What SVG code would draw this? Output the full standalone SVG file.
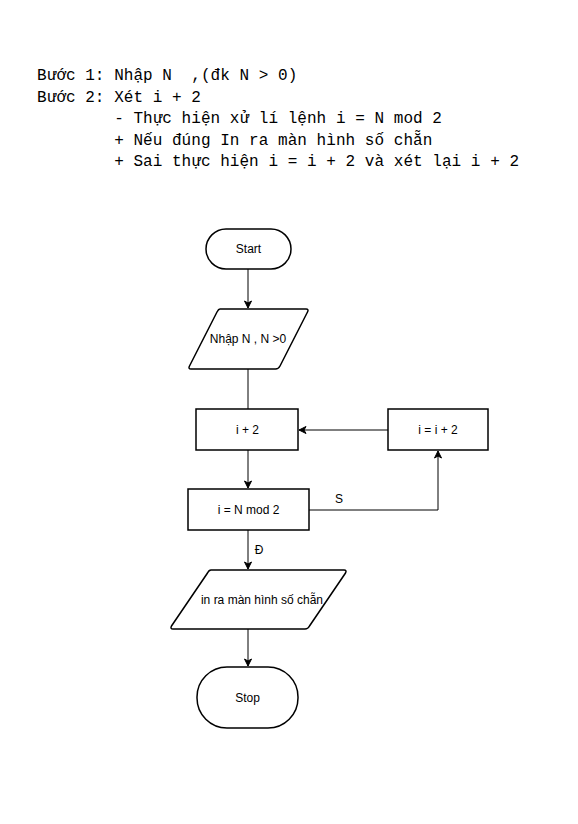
<svg xmlns="http://www.w3.org/2000/svg" width="578" height="824" viewBox="0 0 578 824">
<style>
.mono{font-family:"Liberation Mono","DejaVu Sans Mono",monospace;font-size:16px;letter-spacing:0.04px;fill:#000;white-space:pre}
.shape{fill:#fff;stroke:#000;stroke-width:1.5}
.lbl{font-family:"Liberation Sans",Arial,sans-serif;font-size:12px;fill:#000;text-anchor:middle;dominant-baseline:central}
.edge{fill:none;stroke:#000;stroke-width:1}
</style>
<defs>
<marker id="arr" markerWidth="10" markerHeight="10" refX="8" refY="5" orient="auto" markerUnits="userSpaceOnUse">
<path d="M1,1.5 L8,5 L1,8.5 L3,5 Z" fill="#000" stroke="#000" stroke-width="1"/>
</marker>
</defs>
<rect width="578" height="824" fill="#fff"/>
<g id="description">
<text class="mono" x="37" y="80" xml:space="preserve">Bước 1: Nhập N  ,(đk N &gt; 0)</text>
<text class="mono" x="37" y="101.5" xml:space="preserve">Bước 2: Xét i + 2</text>
<text class="mono" x="37" y="123" xml:space="preserve">        - Thực hiện xử lí lệnh i = N mod 2</text>
<text class="mono" x="37" y="144.5" xml:space="preserve">        + Nếu đúng In ra màn hình số chẵn</text>
<text class="mono" x="37" y="166" xml:space="preserve">        + Sai thực hiện i = i + 2 và xét lại i + 2</text>
</g>
<g id="connectors">
<line class="edge" x1="248" y1="269" x2="248" y2="308" marker-end="url(#arr)"/>
<line class="edge" x1="248" y1="369" x2="248" y2="409"/>
<line class="edge" x1="388" y1="430" x2="299" y2="430" marker-end="url(#arr)"/>
<line class="edge" x1="248" y1="450" x2="248" y2="488" marker-end="url(#arr)"/>
<polyline class="edge" points="309,510 438,510 438,451" marker-end="url(#arr)"/>
<text class="lbl" x="339" y="499">S</text>
<line class="edge" x1="248" y1="530" x2="248" y2="569" marker-end="url(#arr)"/>
<text class="lbl" x="259" y="550">Đ</text>
<line class="edge" x1="248" y1="629" x2="248" y2="666" marker-end="url(#arr)"/>
</g>
<g id="start">
<rect class="shape" x="206" y="229" width="85" height="40" rx="20" ry="20"/>
<text class="lbl" x="248.5" y="249">Start</text>
</g>
<g id="input">
<path class="shape" d="M220,309 L306,309 Q309,309 307.5,312 L280,366 Q278.5,369 275.5,369 L191,369 Q188,369 189.5,366 L217,312 Q218.5,309 220,309 Z"/>
<text class="lbl" x="248" y="339">Nhập N , N &gt;0</text>
</g>
<g id="loop">
<rect class="shape" x="196" y="409" width="102" height="41"/>
<text class="lbl" x="247.5" y="429.5">i + 2</text>
</g>
<g id="increment">
<rect class="shape" x="388" y="409" width="100" height="41"/>
<text class="lbl" x="438" y="429.5">i = i + 2</text>
</g>
<g id="check">
<rect class="shape" x="188" y="489" width="121" height="41"/>
<text class="lbl" x="248.5" y="509.5">i = N mod 2</text>
</g>
<g id="output">
<path class="shape" d="M211,570 L344,570 Q347,570 345.5,573 L309.5,626 Q308,629 305,629 L173,629 Q170,629 171.5,626 L207.5,573 Q209,570 211,570 Z"/>
<text class="lbl" x="262" y="599.5">in ra màn hình số chẵn</text>
</g>
<g id="stop">
<rect class="shape" x="197" y="667" width="101" height="61" rx="30" ry="30"/>
<text class="lbl" x="247.5" y="697.5">Stop</text>
</g>
</svg>
